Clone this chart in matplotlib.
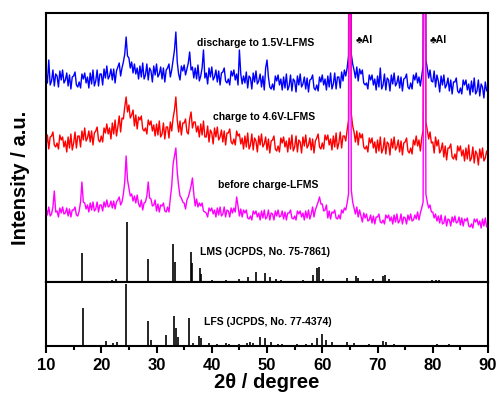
import numpy as np
import matplotlib
matplotlib.use("Agg")
import matplotlib.pyplot as plt
from matplotlib.ticker import MultipleLocator

plt.rcParams['font.family'] = ['Liberation Sans', 'DejaVu Sans']

# 2theta grid of the measured patterns (0.25 deg steps)
two_theta = np.arange(10, 90.001, 0.25)

discharge_1p5V = [
    210, 199, 222, 197, 201, 212, 196, 208,
    206, 195, 211, 202, 212, 199, 202, 209,
    196, 207, 193, 205, 206, 210, 197, 195,
    200, 194, 208, 203, 209, 199, 205, 194,
    209, 198, 212, 196, 201, 212, 196, 208,
    208, 197, 213, 204, 216, 203, 206, 213,
    202, 213, 199, 211, 215, 219, 206, 214,
    220, 228, 245, 226, 224, 214, 220, 209,
    218, 208, 214, 203, 216, 205, 219, 203,
    207, 218, 202, 214, 211, 200, 216, 207,
    218, 205, 208, 215, 203, 214, 200, 212,
    214, 218, 205, 212, 222, 232, 250, 220,
    208, 202, 216, 211, 217, 207, 213, 219,
    230, 212, 215, 204, 214, 203, 217, 201,
    206, 214, 232, 204, 209, 198, 214, 205,
    215, 202, 205, 212, 200, 211, 197, 209,
    210, 214, 201, 199, 203, 197, 211, 206,
    212, 202, 208, 197, 232, 208, 198, 206,
    199, 210, 194, 206, 204, 193, 209, 200,
    211, 198, 201, 208, 195, 206, 192, 214,
    222, 205, 195, 193, 198, 192, 206, 201,
    207, 197, 203, 192, 205, 194, 208, 192,
    196, 207, 191, 203, 201, 190, 206, 197,
    208, 195, 198, 205, 193, 204, 190, 202,
    203, 207, 194, 192, 197, 191, 205, 200,
    207, 197, 203, 192, 206, 195, 209, 193,
    198, 209, 193, 205, 205, 194, 210, 201,
    212, 206, 214, 226, 700, 228, 218, 212,
    204, 215, 201, 213, 208, 212, 199, 197,
    199, 193, 207, 202, 207, 197, 203, 192,
    206, 195, 214, 193, 197, 208, 192, 204,
    202, 191, 207, 198, 209, 196, 199, 206,
    194, 205, 191, 203, 204, 208, 195, 193,
    199, 193, 207, 202, 209, 199, 205, 196,
    206, 216, 700, 222, 214, 204, 212, 201,
    200, 211, 195, 207, 201, 190, 206, 197,
    207, 194, 197, 204, 191, 202, 188, 200,
    200, 204, 191, 189, 194, 188, 202, 197,
    202, 192, 198, 187, 201, 190, 204, 188,
    191, 202, 186, 198, 195, 184, 200, 191,
    192,
]
charge_4p6V = [
    136, 147, 133, 145, 146, 150, 137, 135,
    139, 133, 147, 142, 145, 135, 141, 130,
    145, 134, 148, 132, 139, 150, 134, 146,
    146, 135, 151, 142, 154, 141, 144, 151,
    140, 151, 137, 149, 151, 155, 142, 140,
    146, 140, 154, 149, 158, 148, 154, 143,
    159, 148, 162, 146, 155, 166, 150, 164,
    163, 175, 185, 170, 177, 164, 167, 172,
    156, 167, 153, 165, 162, 166, 153, 151,
    154, 148, 162, 157, 161, 151, 157, 146,
    158, 147, 161, 145, 148, 159, 143, 155,
    155, 144, 160, 151, 164, 172, 185, 162,
    150, 161, 147, 159, 159, 163, 150, 148,
    163, 170, 154, 160, 160, 150, 156, 145,
    158, 147, 161, 145, 145, 156, 140, 152,
    149, 138, 154, 145, 155, 142, 145, 152,
    140, 151, 137, 149, 149, 153, 140, 138,
    143, 137, 151, 146, 148, 138, 144, 133,
    146, 135, 149, 133, 137, 148, 132, 144,
    141, 130, 146, 137, 148, 135, 138, 145,
    132, 143, 129, 141, 142, 146, 133, 131,
    136, 130, 144, 139, 145, 135, 141, 130,
    144, 133, 147, 131, 135, 146, 130, 142,
    140, 129, 145, 136, 147, 134, 137, 144,
    132, 143, 129, 141, 144, 148, 135, 133,
    139, 133, 147, 142, 147, 137, 143, 132,
    146, 135, 149, 133, 139, 150, 134, 146,
    146, 141, 152, 162, 700, 168, 156, 150,
    140, 151, 137, 149, 144, 148, 135, 133,
    136, 130, 144, 139, 144, 134, 140, 129,
    142, 131, 145, 129, 133, 144, 128, 140,
    138, 127, 143, 134, 145, 132, 135, 142,
    130, 141, 127, 139, 140, 144, 131, 129,
    134, 128, 142, 137, 146, 136, 142, 131,
    144, 152, 700, 160, 152, 143, 150, 139,
    140, 129, 145, 136, 142, 129, 132, 139,
    125, 136, 122, 134, 134, 138, 125, 123,
    128, 122, 136, 131, 136, 126, 132, 121,
    134, 123, 137, 121, 124, 135, 119, 131,
    128, 117, 133, 124, 134, 121, 124, 131,
    126,
]
before_charge = [
    74, 67, 75, 66, 68, 75, 91, 70,
    71, 65, 74, 69, 75, 68, 69, 74,
    66, 73, 65, 72, 72, 75, 67, 66,
    71, 80, 100, 80, 79, 73, 77, 70,
    79, 72, 80, 71, 73, 80, 70, 77,
    77, 71, 80, 75, 82, 75, 76, 81,
    74, 81, 73, 80, 82, 85, 77, 80,
    88, 100, 126, 102, 94, 86, 88, 81,
    86, 79, 87, 78, 75, 82, 72, 79,
    80, 86, 100, 84, 83, 76, 77, 82,
    71, 78, 70, 77, 76, 79, 71, 70,
    75, 70, 84, 96, 118, 126, 134, 110,
    96, 86, 84, 80, 79, 73, 82, 85,
    90, 96, 104, 88, 76, 83, 75, 79,
    76, 79, 71, 70, 69, 65, 74, 71,
    74, 68, 72, 65, 74, 67, 75, 66,
    68, 75, 65, 72, 71, 65, 74, 69,
    74, 70, 85, 76, 66, 73, 65, 72,
    69, 72, 64, 63, 66, 62, 71, 68,
    71, 65, 69, 62, 71, 64, 72, 63,
    65, 72, 62, 69, 68, 62, 71, 66,
    72, 65, 66, 71, 63, 70, 62, 69,
    69, 72, 64, 63, 66, 62, 71, 68,
    71, 65, 69, 62, 71, 64, 72, 63,
    68, 75, 65, 72, 76, 80, 85, 78,
    78, 71, 72, 77, 64, 71, 63, 70,
    69, 72, 64, 63, 67, 63, 72, 69,
    74, 72, 79, 88, 700, 92, 80, 74,
    68, 75, 65, 72, 66, 60, 69, 64,
    68, 61, 62, 67, 59, 66, 58, 65,
    65, 68, 60, 59, 62, 58, 67, 64,
    67, 61, 65, 58, 67, 60, 68, 59,
    61, 68, 58, 65, 64, 58, 67, 62,
    68, 61, 62, 67, 63, 70, 62, 69,
    74, 80, 700, 88, 80, 74, 77, 70,
    70, 64, 68, 61, 66, 59, 67, 58,
    59, 66, 56, 63, 62, 56, 65, 60,
    66, 59, 60, 65, 57, 64, 56, 63,
    61, 64, 56, 55, 58, 54, 63, 60,
    63, 57, 61, 54, 63, 56, 64, 55,
    58,
]

# reference cards
lms_pos = [16.6, 21.9, 22.6, 24.6, 28.4, 33.0, 33.4, 36.2, 36.5, 37.8,
           38.1, 40.0, 42.5, 45.0, 46.6, 48.0, 49.6, 50.5, 51.6, 52.5,
           56.5, 58.4, 59.0, 59.4, 60.1, 64.4, 66.1, 66.5, 69.2, 71.0,
           71.4, 72.0, 79.9, 80.5, 81.2]
lms_int = [29, 2, 3, 60, 23, 38, 20, 30, 19, 14,
           8, 2, 2, 3, 5, 10, 9, 5, 3, 2,
           2, 7, 14, 15, 3, 4, 6, 4, 3, 6,
           7, 3, 2, 2, 2]
lfs_pos = [16.7, 20.9, 22.2, 22.9, 24.5, 28.5, 29.0, 31.7, 33.2, 33.6,
           33.9, 35.8, 36.6, 37.7, 38.0, 39.5, 41.0, 42.5, 43.2, 45.0,
           46.3, 46.9, 47.5, 48.7, 49.6, 50.7, 52.0, 52.8, 55.5, 57.0,
           58.2, 59.0, 60.0, 60.7, 61.8, 64.4, 65.7, 68.5, 71.0, 71.6,
           72.9, 80.8, 83.0]
lfs_int = [38, 5, 3, 4, 62, 25, 6, 11, 30, 18,
           9, 28, 3, 10, 8, 3, 2, 3, 2, 2,
           3, 4, 3, 9, 8, 4, 2, 2, 2, 2,
           3, 8, 12, 6, 4, 4, 3, 2, 5, 4,
           2, 2, 2]

fig = plt.figure(figsize=(4.98, 3.96), dpi=100)
ax = fig.add_axes([0.0924, 0.2879, 0.8876, 0.6793])
ax2 = fig.add_axes([0.0924, 0.1263, 0.8876, 0.1616], sharex=ax)

ax.plot(two_theta, discharge_1p5V, color='#0000ff', lw=1.0)
ax.plot(two_theta, charge_4p6V, color='#ff0000', lw=1.0)
ax.plot(two_theta, before_charge, color='#ff00ff', lw=1.0)
ax.vlines(lms_pos, 0, lms_int, color='black', lw=1.2)
ax2.vlines(lfs_pos, 0, lfs_int, color='black', lw=1.2)

txt = dict(fontsize=7.5, fontweight='bold', va='center', ha='left')
ax.text(37.3, 239, 'discharge to 1.5V-LFMS', **txt)
ax.text(40.2, 165, 'charge to 4.6V-LFMS', **txt)
ax.text(41.1, 97, 'before charge-LFMS', **txt)
ax.text(66.1, 242, '♣Al', **txt)
ax.text(79.5, 242, '♣Al', **txt)
ax.text(37.9, 30, 'LMS (JCPDS, No. 75-7861)', **txt)
ax2.text(38.6, 24, 'LFS (JCPDS, No. 77-4374)', **txt)

ax.set_xlim(10, 90)
ax.set_ylim(0, 269)
ax2.set_ylim(0, 64)
for a in (ax, ax2):
    for s in a.spines.values():
        s.set_linewidth(1.5)
    a.set_yticks([])
ax.tick_params(axis='x', bottom=False, labelbottom=False)
ax2.xaxis.set_major_locator(MultipleLocator(10))
ax2.xaxis.set_minor_locator(MultipleLocator(5))
ax2.tick_params(axis='x', which='major', direction='out', length=5, width=1.5,
                pad=4, labelsize=12)
ax2.tick_params(axis='x', which='minor', direction='out', length=3, width=1.5)
for lab in ax2.get_xticklabels():
    lab.set_fontweight('bold')

ax2.set_xlabel('2θ / degree', fontsize=14.5, fontweight='bold', labelpad=0)
fig.text(0.041, 0.55, 'Intensity / a.u.', rotation=90, fontsize=14.5,
         fontweight='bold', ha='center', va='center')

fig.savefig('out.png', dpi=100)
